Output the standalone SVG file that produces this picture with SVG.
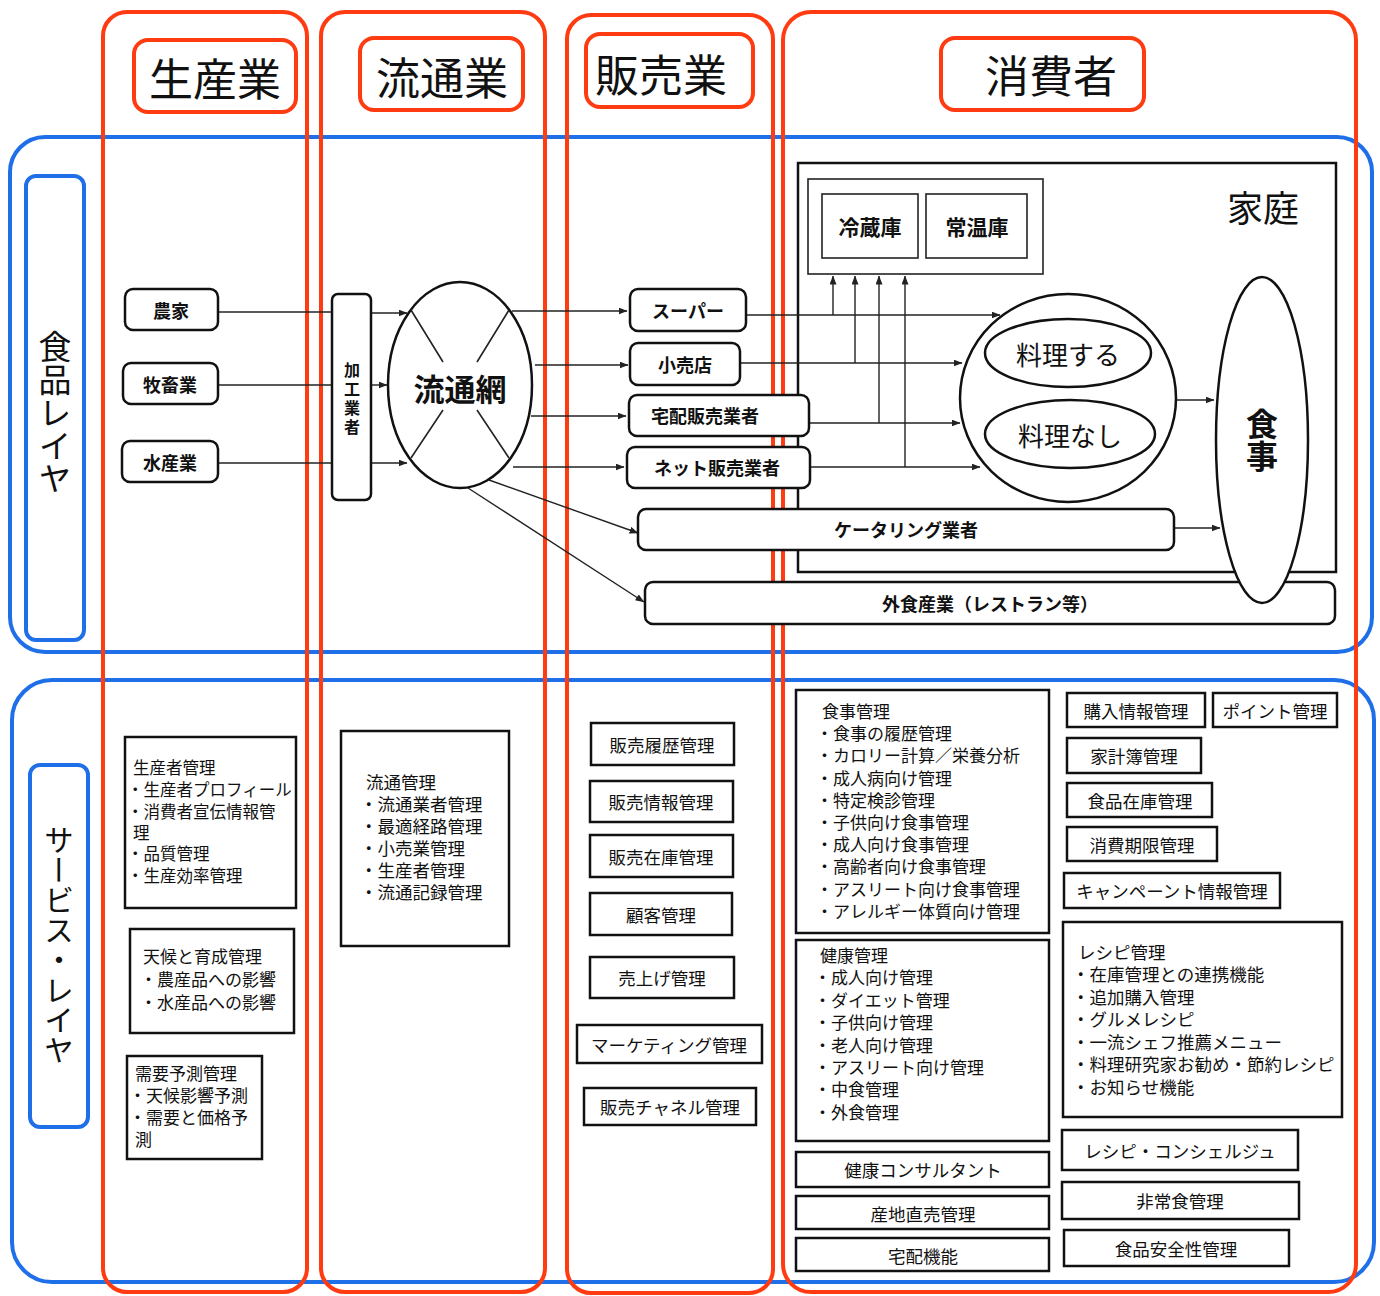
<svg xmlns="http://www.w3.org/2000/svg" width="1380" height="1296" viewBox="0 0 1380 1296">
<style>
text{font-family:"Noto Sans CJK JP","Noto Sans",sans-serif;fill:#111}
.red{fill:none;stroke:#FF3B12;stroke-width:4}
.hdr{fill:#fff;stroke:#FF3B12;stroke-width:4}
.blue{fill:none;stroke:#1F6FE8;stroke-width:4}
.box{fill:#fff;stroke:#111;stroke-width:2.5}
.thin{fill:none;stroke:#222;stroke-width:1.6}
.conn{fill:none;stroke:#222;stroke-width:1.4}
.arr{marker-end:url(#ah)}
.h{font-size:44px;text-anchor:middle;dominant-baseline:central}
.n{font-size:18px;font-weight:bold;text-anchor:middle;dominant-baseline:central}
.s{font-size:17.5px;text-anchor:middle;dominant-baseline:central}
.l{font-size:17px}
.v{writing-mode:vertical-rl;text-anchor:middle}
</style>
<defs>
<marker id="ah" markerWidth="9" markerHeight="7" refX="8.5" refY="3.5" orient="auto" markerUnits="userSpaceOnUse"><path d="M0,0 L9,3.5 L0,7 z" fill="#222"/></marker>
</defs>
<rect width="1380" height="1296" fill="#fff"/>

<!-- layers -->
<g id="layers">
<rect class="blue" x="10" y="137" width="1362" height="515" rx="35"/>
<rect class="blue" x="12" y="680" width="1362" height="602" rx="40"/>
<rect class="blue" x="26" y="176" width="58" height="464" rx="10"/>
<rect class="blue" x="30" y="765" width="58" height="362" rx="10"/>
<text class="v" x="55" y="412" style="font-size:33px">食品レイヤ</text>
<text class="v" x="59" y="945" style="font-size:30px">サービス・レイヤ</text>
</g>

<!-- columns -->
<g id="columns">
<rect class="red" x="103" y="12" width="204" height="1280" rx="24"/>
<rect class="red" x="321" y="12" width="224" height="1280" rx="24"/>
<rect class="red" x="567" y="15" width="206" height="1278" rx="24"/>
<rect class="red" x="783" y="12" width="573" height="1280" rx="28"/>
<g id="h-seisan"><rect class="hdr" x="134" y="40" width="162" height="72" rx="14"/><text class="h" x="215" y="77">生産業</text></g>
<g id="h-ryutsu"><rect class="hdr" x="360" y="38" width="163" height="72" rx="14"/><text class="h" x="442" y="76">流通業</text></g>
<g id="h-hanbai"><rect class="hdr" x="586" y="34" width="167" height="73" rx="14"/><text class="h" x="661" y="73">販売業</text></g>
<g id="h-shohi"><rect class="hdr" x="941" y="38" width="203" height="72" rx="14"/><text class="h" x="1051" y="74">消費者</text></g>
</g>

<!-- home -->
<g id="home">
<rect fill="none" stroke="#111" stroke-width="2.5" x="798" y="163" width="538" height="409"/>
<text x="1263" y="206" style="font-size:36px;text-anchor:middle;dominant-baseline:central">家庭</text>
<rect class="thin" x="808" y="179" width="235" height="95"/>
<g id="reizo"><rect class="thin" x="822" y="194" width="96" height="64"/><text class="n" x="870" y="226" style="font-size:21px">冷蔵庫</text></g>
<g id="jouon"><rect class="thin" x="926" y="194" width="101" height="64"/><text class="n" x="977" y="226" style="font-size:21px">常温庫</text></g>
</g>

<!-- connectors -->
<g id="connectors">
<path class="conn" d="M218,312 H332"/>
<path class="conn" d="M218,385 H332"/>
<path class="conn" d="M218,463 H332"/>
<path class="conn arr" d="M371,313 H407"/>
<path class="conn arr" d="M371,385 H387"/>
<path class="conn arr" d="M371,463 H407"/>
<path class="conn arr" d="M512,311 H627"/>
<path class="conn arr" d="M535,365 H628"/>
<path class="conn arr" d="M531,416 H626"/>
<path class="conn arr" d="M513,467 H624"/>
<path class="conn arr" d="M489,480 L638,533"/>
<path class="conn arr" d="M468,488 L644,602"/>
<path class="conn arr" d="M747,315 H1000"/>
<path class="conn arr" d="M740,363 H962"/>
<path class="conn arr" d="M809,423 H960"/>
<path class="conn arr" d="M810,467 H980"/>
<path class="conn arr" d="M833,315 V276"/>
<path class="conn arr" d="M855,363 V276"/>
<path class="conn arr" d="M879,423 V276"/>
<path class="conn arr" d="M905,467 V276"/>
<path class="conn arr" d="M1177,400 H1214"/>
<path class="conn arr" d="M1174,528 H1220"/>
</g>

<!-- food layer nodes -->
<g id="nouka"><rect class="box" x="125" y="289" width="93" height="41" rx="8"/><text class="n" x="171" y="310">農家</text></g>
<g id="bokuchiku"><rect class="box" x="123" y="363" width="95" height="41" rx="8"/><text class="n" x="170" y="384">牧畜業</text></g>
<g id="suisan"><rect class="box" x="122" y="441" width="96" height="41" rx="8"/><text class="n" x="170" y="462">水産業</text></g>
<g id="kakou"><rect class="box" x="332" y="294" width="39" height="206" rx="6"/><text class="v" x="352" y="400" style="font-size:16px;font-weight:bold;letter-spacing:3px">加工業者</text></g>
<g id="ryutsumou">
<ellipse fill="#fff" stroke="#111" stroke-width="2.5" cx="460" cy="385" rx="72" ry="103"/>
<path class="thin" d="M411,310 L443,362 M509,310 L477,362 M443,410 L411,458 M477,410 L509,458" stroke-width="2"/>
<text x="460" y="387" style="font-size:31px;font-weight:bold;text-anchor:middle;dominant-baseline:central">流通網</text>
</g>
<g id="super"><rect class="box" x="630" y="289" width="116" height="42" rx="8"/><text class="n" x="688" y="310">スーパー</text></g>
<g id="kouri"><rect class="box" x="630" y="343" width="110" height="42" rx="8"/><text class="n" x="685" y="364">小売店</text></g>
<g id="takuhai"><rect class="box" x="629" y="395" width="180" height="41" rx="8"/><text class="n" x="705" y="415">宅配販売業者</text></g>
<g id="net"><rect class="box" x="627" y="447" width="183" height="41" rx="8"/><text class="n" x="717" y="467">ネット販売業者</text></g>
<g id="catering"><rect class="box" x="638" y="509" width="536" height="41" rx="8"/><text class="n" x="906" y="529">ケータリング業者</text></g>
<g id="gaishoku"><rect class="box" x="645" y="582" width="690" height="42" rx="8"/><text class="n" x="990" y="603">外食産業（レストラン等）</text></g>
<g id="cook">
<ellipse fill="#fff" stroke="#111" stroke-width="2.5" cx="1068" cy="398" rx="108" ry="104"/>
<g id="suru"><ellipse fill="#fff" stroke="#111" stroke-width="2.5" cx="1068" cy="353" rx="83" ry="34"/><text x="1068" y="353" style="font-size:26px;text-anchor:middle;dominant-baseline:central">料理する</text></g>
<g id="nashi"><ellipse fill="#fff" stroke="#111" stroke-width="2.5" cx="1070" cy="434" rx="85" ry="34"/><text x="1070" y="434" style="font-size:26px;text-anchor:middle;dominant-baseline:central">料理なし</text></g>
</g>
<g id="shokuji"><ellipse fill="#fff" stroke="#111" stroke-width="2.5" cx="1262" cy="440" rx="46" ry="163"/><text class="v" x="1262" y="440" style="font-size:32px;font-weight:bold">食事</text></g>

<!-- service layer: producer -->
<g id="seisansha"><rect class="box" x="125" y="737" width="171" height="171"/>
<text class="l" style="font-size:16.5px"><tspan x="133" y="774">生産者管理</tspan><tspan x="127" y="796">・生産者プロフィール</tspan><tspan x="127" y="818">・消費者宣伝情報管</tspan><tspan x="133" y="839">理</tspan><tspan x="127" y="860">・品質管理</tspan><tspan x="127" y="882">・生産効率管理</tspan></text></g>
<g id="tenkou"><rect class="box" x="130" y="929" width="164" height="104"/>
<text class="l"><tspan x="143" y="963">天候と育成管理</tspan><tspan x="140" y="986">・農産品への影響</tspan><tspan x="140" y="1009">・水産品への影響</tspan></text></g>
<g id="juyou"><rect class="box" x="127" y="1056" width="135" height="103"/>
<text class="l"><tspan x="135" y="1080">需要予測管理</tspan><tspan x="129" y="1102">・天候影響予測</tspan><tspan x="129" y="1124">・需要と価格予</tspan><tspan x="135" y="1146">測</tspan></text></g>

<!-- distribution -->
<g id="ryutsukanri"><rect class="box" x="341" y="731" width="168" height="215"/>
<text class="l" style="font-size:17.5px"><tspan x="366" y="789">流通管理</tspan><tspan x="360" y="811">・流通業者管理</tspan><tspan x="360" y="833">・最適経路管理</tspan><tspan x="360" y="855">・小売業管理</tspan><tspan x="360" y="877">・生産者管理</tspan><tspan x="360" y="899">・流通記録管理</tspan></text></g>

<!-- sales -->
<g id="s1"><rect class="box" x="591" y="723" width="143" height="42"/><text class="s" x="662" y="744">販売履歴管理</text></g>
<g id="s2"><rect class="box" x="590" y="781" width="143" height="41"/><text class="s" x="661" y="801">販売情報管理</text></g>
<g id="s3"><rect class="box" x="590" y="835" width="143" height="42"/><text class="s" x="661" y="856">販売在庫管理</text></g>
<g id="s4"><rect class="box" x="590" y="893" width="142" height="42"/><text class="s" x="661" y="914">顧客管理</text></g>
<g id="s5"><rect class="box" x="590" y="957" width="144" height="41"/><text class="s" x="662" y="977">売上げ管理</text></g>
<g id="s6"><rect class="box" x="577" y="1025" width="185" height="38"/><text class="s" x="669" y="1044">マーケティング管理</text></g>
<g id="s7"><rect class="box" x="584" y="1088" width="172" height="37"/><text class="s" x="670" y="1106">販売チャネル管理</text></g>

<!-- consumer left -->
<g id="shokujikanri"><rect class="box" x="796" y="690" width="253" height="243"/>
<text class="l"><tspan x="822" y="718">食事管理</tspan><tspan x="816" y="740">・食事の履歴管理</tspan><tspan x="816" y="762">・カロリー計算／栄養分析</tspan><tspan x="816" y="785">・成人病向け管理</tspan><tspan x="816" y="807">・特定検診管理</tspan><tspan x="816" y="829">・子供向け食事管理</tspan><tspan x="816" y="851">・成人向け食事管理</tspan><tspan x="816" y="873">・高齢者向け食事管理</tspan><tspan x="816" y="896">・アスリート向け食事管理</tspan><tspan x="816" y="918">・アレルギー体質向け管理</tspan></text></g>
<g id="kenkou"><rect class="box" x="796" y="940" width="253" height="201"/>
<text class="l"><tspan x="820" y="962">健康管理</tspan><tspan x="814" y="984">・成人向け管理</tspan><tspan x="814" y="1007">・ダイエット管理</tspan><tspan x="814" y="1029">・子供向け管理</tspan><tspan x="814" y="1052">・老人向け管理</tspan><tspan x="814" y="1074">・アスリート向け管理</tspan><tspan x="814" y="1096">・中食管理</tspan><tspan x="814" y="1119">・外食管理</tspan></text></g>
<g id="c1"><rect class="box" x="796" y="1152" width="253" height="35"/><text class="s" x="923" y="1169">健康コンサルタント</text></g>
<g id="c2"><rect class="box" x="796" y="1196" width="253" height="33"/><text class="s" x="923" y="1213">産地直売管理</text></g>
<g id="c3"><rect class="box" x="796" y="1238" width="253" height="33"/><text class="s" x="923" y="1255">宅配機能</text></g>

<!-- consumer right -->
<g id="r1"><rect class="box" x="1067" y="693" width="138" height="34"/><text class="s" x="1136" y="710">購入情報管理</text></g>
<g id="r2"><rect class="box" x="1213" y="693" width="124" height="34"/><text class="s" x="1275" y="710">ポイント管理</text></g>
<g id="r3"><rect class="box" x="1067" y="738" width="134" height="35"/><text class="s" x="1134" y="755">家計簿管理</text></g>
<g id="r4"><rect class="box" x="1067" y="783" width="145" height="34"/><text class="s" x="1140" y="800">食品在庫管理</text></g>
<g id="r5"><rect class="box" x="1067" y="827" width="150" height="34"/><text class="s" x="1142" y="844">消費期限管理</text></g>
<g id="r6"><rect class="box" x="1064" y="873" width="216" height="35"/><text class="s" x="1172" y="890">キャンペーント情報管理</text></g>
<g id="recipe"><rect class="box" x="1063" y="922" width="279" height="195"/>
<text class="l" style="font-size:17.5px"><tspan x="1078" y="959">レシピ管理</tspan><tspan x="1072" y="981">・在庫管理との連携機能</tspan><tspan x="1072" y="1004">・追加購入管理</tspan><tspan x="1072" y="1026">・グルメレシピ</tspan><tspan x="1072" y="1049">・一流シェフ推薦メニュー</tspan><tspan x="1072" y="1071">・料理研究家お勧め・節約レシピ</tspan><tspan x="1072" y="1094">・お知らせ機能</tspan></text></g>
<g id="r7"><rect class="box" x="1062" y="1130" width="236" height="40"/><text class="s" x="1180" y="1150">レシピ・コンシェルジュ</text></g>
<g id="r8"><rect class="box" x="1062" y="1182" width="237" height="37"/><text class="s" x="1180" y="1200">非常食管理</text></g>
<g id="r9"><rect class="box" x="1064" y="1230" width="225" height="36"/><text class="s" x="1176" y="1248">食品安全性管理</text></g>
</svg>
